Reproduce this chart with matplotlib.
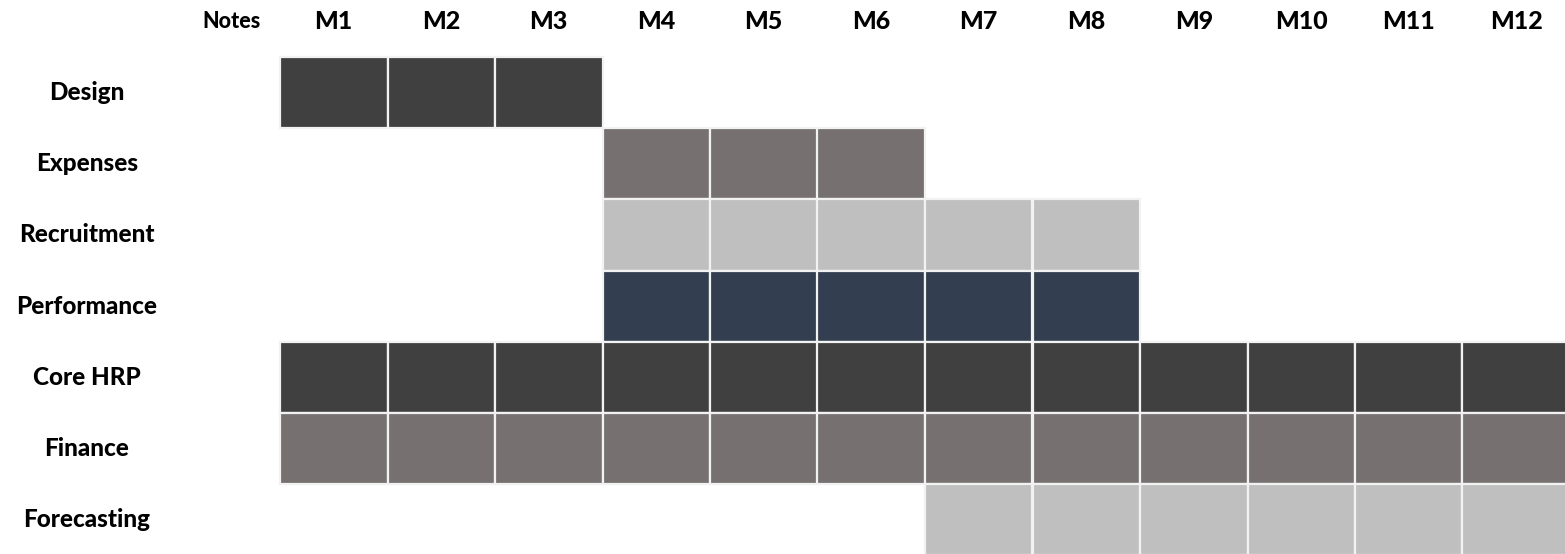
import matplotlib
matplotlib.use('Agg')
from matplotlib import pyplot as plt

# Задачи, месяцы начала (1-based) и длительность в месяцах
tasks = ['Design', 'Expenses', 'Recruitment', 'Performance', 'Core HRP', 'Finance', 'Forecasting']
start_month = [1, 4, 4, 4, 1, 1, 7]
duration = [3, 3, 5, 5, 12, 12, 6]
task_colors = ['#404040', '#767170', '#bfbfbf', '#333f50', '#404040', '#767170', '#bfbfbf']
months = ['M%d' % m for m in range(1, 13)]

W, H = 1565, 554
fig = plt.figure(figsize=(W / 100, H / 100), dpi=100)
ax = fig.add_axes([0, 0, 1, 1])

# Геометрия сетки в пикселях
x0, col_w = 280, 107.5
y0, row_h = 57, 71.2
ax.set_xlim(-x0 / col_w, (W - x0) / col_w)
ax.set_ylim((H - y0) / row_h, -y0 / row_h)
ax.axis('off')

font = dict(family=['Lato', 'DejaVu Sans'], fontweight='black', color='black')

for r, task in enumerate(tasks):
    cols = range(start_month[r] - 1, start_month[r] - 1 + duration[r])
    ax.barh([r + 0.5] * len(cols), [1] * len(cols), left=list(cols), height=1,
            color=task_colors[r], edgecolor='#f2f2f2', linewidth=1.6)
    ax.text((87 - x0) / col_w, r + 0.5, task, ha='center', va='center', fontsize=17.5, **font)

# Заголовки столбцов
header_y = (22 - y0) / row_h
ax.text((231 - x0) / col_w, header_y, 'Notes', ha='center', va='center', fontsize=15.5, **font)
for i, m in enumerate(months):
    ax.text(i + 0.5, header_y, m, ha='center', va='center', fontsize=18, **font)

fig.savefig('out.png', dpi=100)
